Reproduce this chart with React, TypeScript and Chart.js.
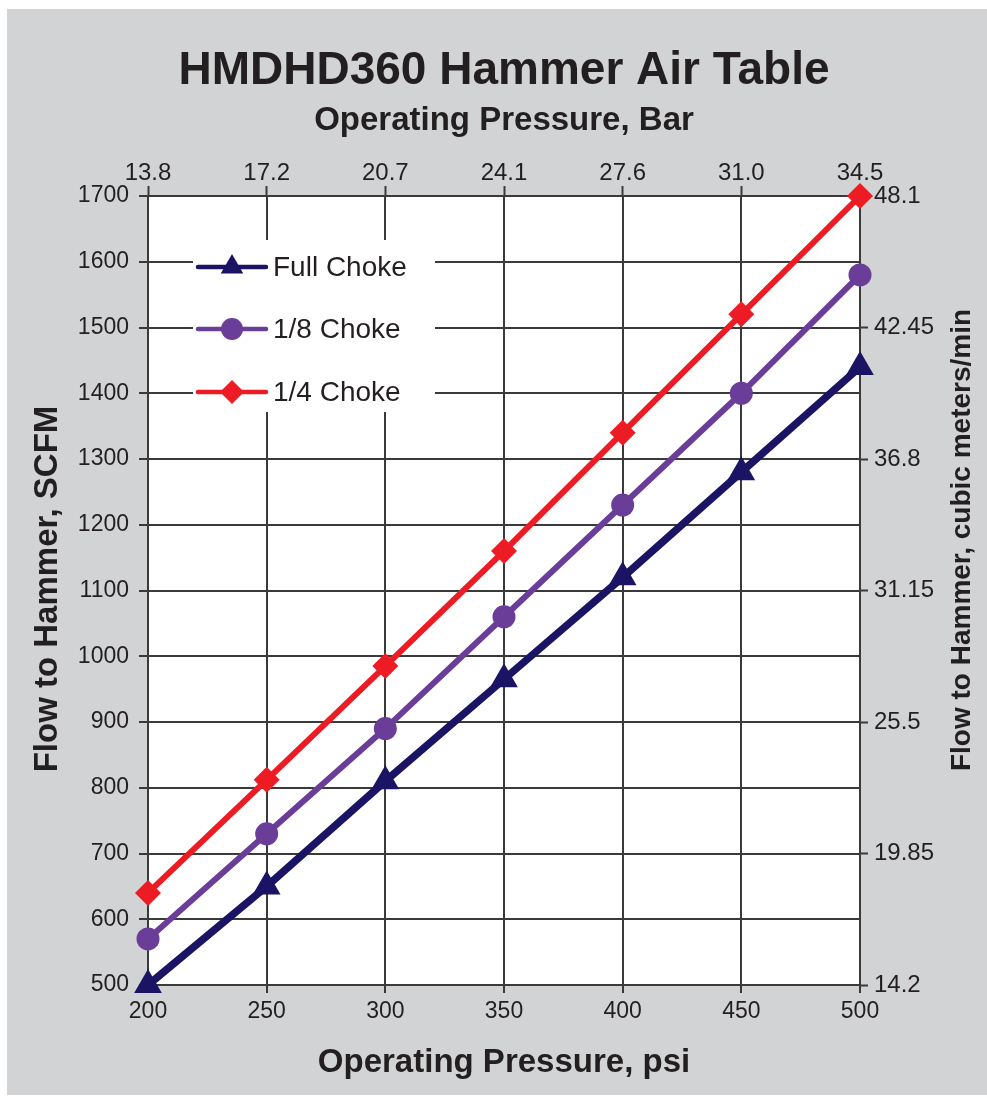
import React, { useEffect, useRef } from "react";
import { Chart, registerables } from "chart.js";

Chart.register(...registerables);

const pressuresPsi = [200, 250, 300, 350, 400, 450, 500];
const pressuresBar = ["13.8", "17.2", "20.7", "24.1", "27.6", "31.0", "34.5"];
const rightTickLabels = ["14.2", "19.85", "25.5", "31.15", "36.8", "42.45", "48.1"];

const fullChoke = [500, 650, 810, 965, 1120, 1280, 1440];
const eighthChoke = [570, 730, 890, 1060, 1230, 1400, 1580];
const quarterChoke = [640, 812, 985, 1160, 1340, 1520, 1700];

const seriesNames = ["Full Choke", "1/8 Choke", "1/4 Choke"];

const titleText = "HMDHD360 Hammer Air Table";
const subtitleText = "Operating Pressure, Bar";
const xTitleText = "Operating Pressure, psi";
const yTitleText = "Flow to Hammer, SCFM";
const y2TitleText = "Flow to Hammer, cubic meters/min";

const FONT = "'Liberation Sans', Arial, Helvetica, sans-serif";
const TEXT = "#231f20";
const GRID = "#3a3a3a";

const W = 980;
const H = 1086;

const textPlugin = {
  id: "customText",
  beforeDraw(chart: any) {
    const { ctx, chartArea } = chart;
    ctx.save();
    ctx.fillStyle = "#ffffff";
    ctx.fillRect(chartArea.left, chartArea.top, chartArea.right - chartArea.left, chartArea.bottom - chartArea.top);
    ctx.restore();
  },
  beforeDatasetsDraw(chart: any) {
    const ctx = chart.ctx;
    ctx.save();
    ctx.fillStyle = "#ffffff";
    ctx.fillRect(186, 231, 242, 172);
    const rows = [258, 320, 383];
    chart.data.datasets.forEach((ds: any, i: number) => {
      const y = rows[i];
      ctx.strokeStyle = ds.borderColor;
      ctx.lineWidth = 4.5;
      ctx.lineCap = "round";
      ctx.beginPath();
      ctx.moveTo(191, y);
      ctx.lineTo(259, y);
      ctx.stroke();
      ctx.fillStyle = ds.backgroundColor;
      ctx.beginPath();
      const cx = 225;
      if (ds.pointStyle === "triangle") {
        const r = 13;
        ctx.moveTo(cx, y - r);
        ctx.lineTo(cx + r * 0.866, y + r * 0.5);
        ctx.lineTo(cx - r * 0.866, y + r * 0.5);
        ctx.closePath();
      } else if (ds.pointStyle === "circle") {
        ctx.arc(cx, y, 11, 0, Math.PI * 2);
      } else {
        const r = 12;
        ctx.moveTo(cx, y - r);
        ctx.lineTo(cx + r, y);
        ctx.lineTo(cx, y + r);
        ctx.lineTo(cx - r, y);
        ctx.closePath();
      }
      ctx.fill();
      ctx.fillStyle = TEXT;
      ctx.font = `28px ${FONT}`;
      ctx.textAlign = "left";
      ctx.textBaseline = "middle";
      ctx.fillText(ds.label, 266, y + 1);
    });
    ctx.restore();
  },
  afterDraw(chart: any) {
    const ctx = chart.ctx;
    ctx.save();
    ctx.fillStyle = TEXT;
    ctx.textAlign = "center";
    ctx.textBaseline = "alphabetic";
    ctx.font = `bold 46px ${FONT}`;
    ctx.fillText(titleText, 497, 75);
    ctx.font = `bold 33px ${FONT}`;
    ctx.fillText(subtitleText, 497, 121);
    ctx.fillText(xTitleText, 497, 1063);

    ctx.save();
    ctx.translate(50, 580);
    ctx.rotate(-Math.PI / 2);
    ctx.font = `bold 33px ${FONT}`;
    ctx.fillText(yTitleText, 0, 0);
    ctx.restore();

    ctx.save();
    ctx.translate(963, 531);
    ctx.rotate(-Math.PI / 2);
    ctx.font = `bold 28px ${FONT}`;
    ctx.fillText(y2TitleText, 0, 0);
    ctx.restore();
    ctx.restore();
  },
};

export default function App() {
  const ref = useRef<HTMLCanvasElement | null>(null);

  useEffect(() => {
    if (!ref.current) return;
    const mk = (vals: number[]) => pressuresPsi.map((x, i) => ({ x, y: vals[i] }));
    const tickFont = { family: FONT, size: 23 };
    const chart = new Chart(ref.current, {
      type: "line",
      data: {
        datasets: [
          {
            label: seriesNames[0],
            data: mk(fullChoke),
            borderColor: "#1b1464",
            backgroundColor: "#1b1464",
            borderWidth: 7.5,
            pointStyle: "triangle",
            pointRadius: 16,
            pointHoverRadius: 16,
            pointBorderWidth: 0,
            clip: false,
          },
          {
            label: seriesNames[1],
            data: mk(eighthChoke),
            borderColor: "#6a3d99",
            backgroundColor: "#6a3d99",
            borderWidth: 6,
            pointStyle: "circle",
            pointRadius: 11.5,
            pointHoverRadius: 11.5,
            pointBorderWidth: 0,
            clip: false,
          },
          {
            label: seriesNames[2],
            data: mk(quarterChoke),
            borderColor: "#ed1c24",
            backgroundColor: "#ed1c24",
            borderWidth: 6,
            pointStyle: "rectRot",
            pointRadius: 13,
            pointHoverRadius: 13,
            pointBorderWidth: 0,
            clip: false,
          },
        ] as any,
      },
      options: {
        animation: false,
        responsive: false,
        events: [],
        layout: { padding: 0 },
        plugins: {
          legend: { display: false },
          title: { display: false },
          tooltip: { enabled: false },
        },
        scales: {
          x: {
            type: "linear",
            position: "bottom",
            min: 200,
            max: 500,
            ticks: { stepSize: 50, color: TEXT, font: tickFont, padding: 5, maxRotation: 0, callback: (v: any) => String(v) },
            grid: { color: GRID, lineWidth: 2, tickLength: 8, tickColor: GRID, tickWidth: 2 },
            border: { color: GRID, width: 2 },
            afterFit: (s: any) => { s.height = 110; },
          },
          xTop: {
            type: "linear",
            position: "top",
            min: 200,
            max: 500,
            ticks: {
              stepSize: 50,
              color: TEXT,
              font: { family: FONT, size: 24 },
              padding: -2,
              maxRotation: 0,
              callback: (v: any) => pressuresBar[Math.round((Number(v) - 200) / 50)] ?? "",
            },
            grid: { drawOnChartArea: false, tickLength: 10, tickColor: GRID, tickWidth: 2 },
            border: { color: GRID, width: 2 },
            afterFit: (s: any) => { s.height = 187; },
          },
          y: {
            type: "linear",
            position: "left",
            min: 500,
            max: 1700,
            ticks: { stepSize: 100, color: TEXT, font: tickFont, padding: 10, callback: (v: any) => String(v) },
            grid: { color: GRID, lineWidth: 2, tickLength: 9, tickColor: GRID, tickWidth: 2 },
            border: { color: GRID, width: 2 },
            afterFit: (s: any) => { s.width = 141; },
          },
          yRight: {
            type: "linear",
            position: "right",
            min: 500,
            max: 1700,
            ticks: {
              stepSize: 200,
              color: TEXT,
              font: { family: FONT, size: 24 },
              padding: 6,
              callback: (v: any) => rightTickLabels[Math.round((Number(v) - 500) / 200)] ?? "",
            },
            grid: { drawOnChartArea: false, tickLength: 8, tickColor: GRID, tickWidth: 2 },
            border: { color: GRID, width: 2 },
            afterFit: (s: any) => { s.width = 127; },
          },
        },
      } as any,
      plugins: [textPlugin],
    });
    return () => chart.destroy();
  }, []);

  return (
    <div
      style={{
        position: "fixed",
        left: 7,
        top: 9,
        width: W,
        height: H,
        background: "#d1d3d4",
      }}
    >
      <canvas ref={ref} width={W} height={H} style={{ display: "block", width: W, height: H }} />
    </div>
  );
}
